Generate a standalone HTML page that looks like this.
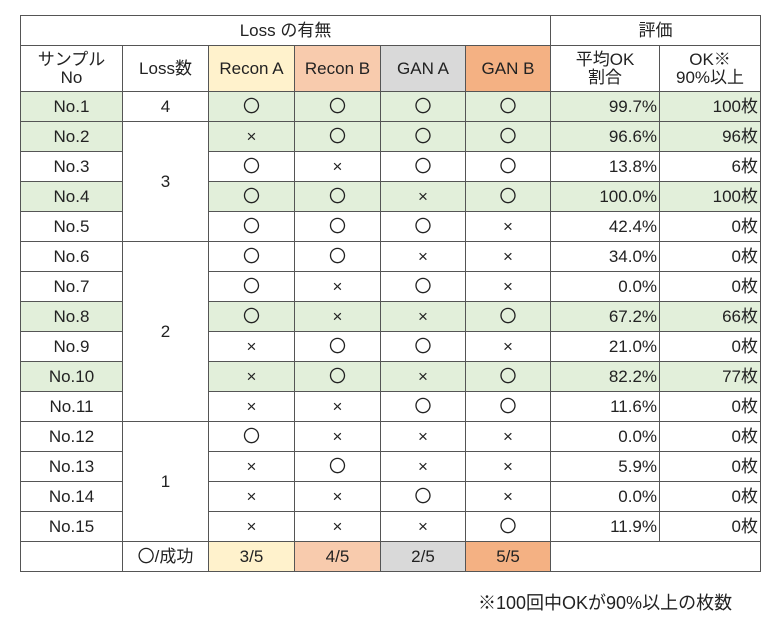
<!DOCTYPE html>
<html><head><meta charset="utf-8">
<style>
html,body{margin:0;padding:0;background:#fff;width:780px;height:622px;overflow:hidden;}
body{font-family:"Liberation Sans Narrow","Liberation Sans","Noto Sans CJK JP",sans-serif;color:#222;}
table{position:absolute;left:20px;top:15px;border-collapse:collapse;table-layout:fixed;width:741px;}
td{border:1px solid #555;font-size:17px;text-align:center;padding:0;height:29px;line-height:18px;white-space:nowrap;overflow:hidden;}
td.r{text-align:right;padding-right:2px;}
tr.h2 td{height:45px;}
.g{background:#e2efda;}
.ca{background:#fff2cc;}.cb{background:#f8cbad;}.cc{background:#d9d9d9;}.cd{background:#f4b183;}
.w{background:#fff;}
.note{position:absolute;left:478px;top:589px;font-size:18px;font-family:"Liberation Sans Narrow","Liberation Sans","Noto Sans CJK JP",sans-serif;}
</style></head><body>
<table>
<colgroup><col style="width:102px"><col style="width:86px"><col style="width:86px"><col style="width:86px"><col style="width:85px"><col style="width:85px"><col style="width:109px"><col style="width:101px"></colgroup>
<tr><td colspan="6">Loss の有無</td><td colspan="2">評価</td></tr>
<tr class="h2"><td>サンプル<br>No</td><td>Loss数</td><td class="ca">Recon A</td><td class="cb">Recon B</td><td class="cc">GAN A</td><td class="cd">GAN B</td><td>平均OK<br>割合</td><td>OK※<br>90%以上</td></tr>
<tbody id="body"></tbody>
<tr><td></td><td>〇/成功</td><td class="ca">3/5</td><td class="cb">4/5</td><td class="cc">2/5</td><td class="cd">5/5</td><td colspan="2"></td></tr>
</table>
<div class="note">※100回中OKが90%以上の枚数</div>
<script>
const flags=["1111","0111","1011","1101","1110","1100","1010","1001","0110","0101","0011","1000","0100","0010","0001"];
const avgOk=["99.7%","96.6%","13.8%","100.0%","42.4%","34.0%","0.0%","67.2%","21.0%","82.2%","11.6%","0.0%","5.9%","0.0%","11.9%"];
const okCount=["100枚","96枚","6枚","100枚","0枚","0枚","0枚","66枚","0枚","77枚","0枚","0枚","0枚","0枚","0枚"];
const highlight=[1,1,0,1,0,0,0,1,0,1,0,0,0,0,0];
const lossGroups=[[0,1,"4"],[1,4,"3"],[5,6,"2"],[11,4,"1"]];
const tb=document.getElementById('body');
for(let i=0;i<flags.length;i++){
  const tr=document.createElement('tr');
  
  
  const cls=highlight[i]?'g':'';
  let td=document.createElement('td');td.className=cls;td.textContent='No.'+(i+1);
  
  
  tr.appendChild(td);
  const g=lossGroups.find(x=>x[0]===i);
  if(g){td=document.createElement('td');td.rowSpan=g[1];td.className='w';td.textContent=g[2];
    
    
    tr.appendChild(td);}
  for(let k=0;k<4;k++){td=document.createElement('td');td.className=cls;
    td.textContent=flags[i][k]==='1'?'〇':'×';
    
    
    tr.appendChild(td);}
  td=document.createElement('td');td.className=cls+' r';td.textContent=avgOk[i];
  
  
  tr.appendChild(td);
  td=document.createElement('td');td.className=cls+' r';td.textContent=okCount[i];
  
  
  tr.appendChild(td);
  tb.appendChild(tr);
}
</script>
</body></html>
